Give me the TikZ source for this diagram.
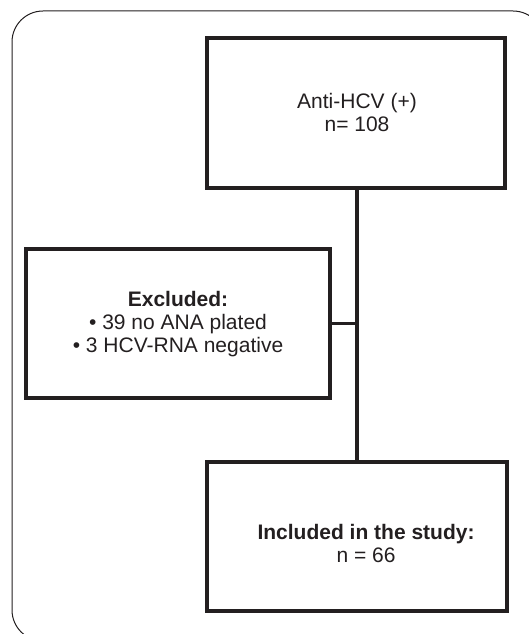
\documentclass[tikz,border=0pt]{standalone}
\usepackage{fontspec}
\setmainfont{Liberation Sans}
\usepackage{tikz}
\usetikzlibrary{positioning}
\definecolor{ink}{HTML}{231F20}
\tikzstyle{Box}=[rectangle, minimum width=300, minimum height=150, line width=3.2pt, draw=ink, inner sep=0pt]
\tikzstyle{Txt}=[align=center, text=ink, font=\fontsize{21}{23}\selectfont]

\begin{document}
\begin{tikzpicture}[x=1pt, y=-1pt]
    \useasboundingbox (0,0) rectangle (529,634);
    \clip (0,0) rectangle (529,634);
    \draw[ink, line width=1pt, rounded corners=31] (12,11) rectangle (544,641);

    \path
    (356,113) node[Box, minimum width=298] (antihcv) {}
    (178,323.5) node[Box, minimum width=304, minimum height=149] (excluded) {}
    (357,536.5) node[Box, minimum height=149] (included) {};

    \path
    (357,112) node[Txt] (antihcvtext) {Anti-HCV (+)\\n= 108}
    (178,324) node[Txt] (excludedtext) {\textbf{Excluded:}\\• 39 no ANA plated\\• 3 HCV-RNA negative}
    (366,543) node[Txt] (includedtext) {\textbf{Included in the study:}\\n = 66};

    \draw[ink, line width=3.2pt] (antihcv.south -| 357,0) -- (included.north -| 357,0);
    \draw[ink, line width=3.2pt] (excluded.east) -- (excluded.east -| 357,0);
\end{tikzpicture}
\end{document}
